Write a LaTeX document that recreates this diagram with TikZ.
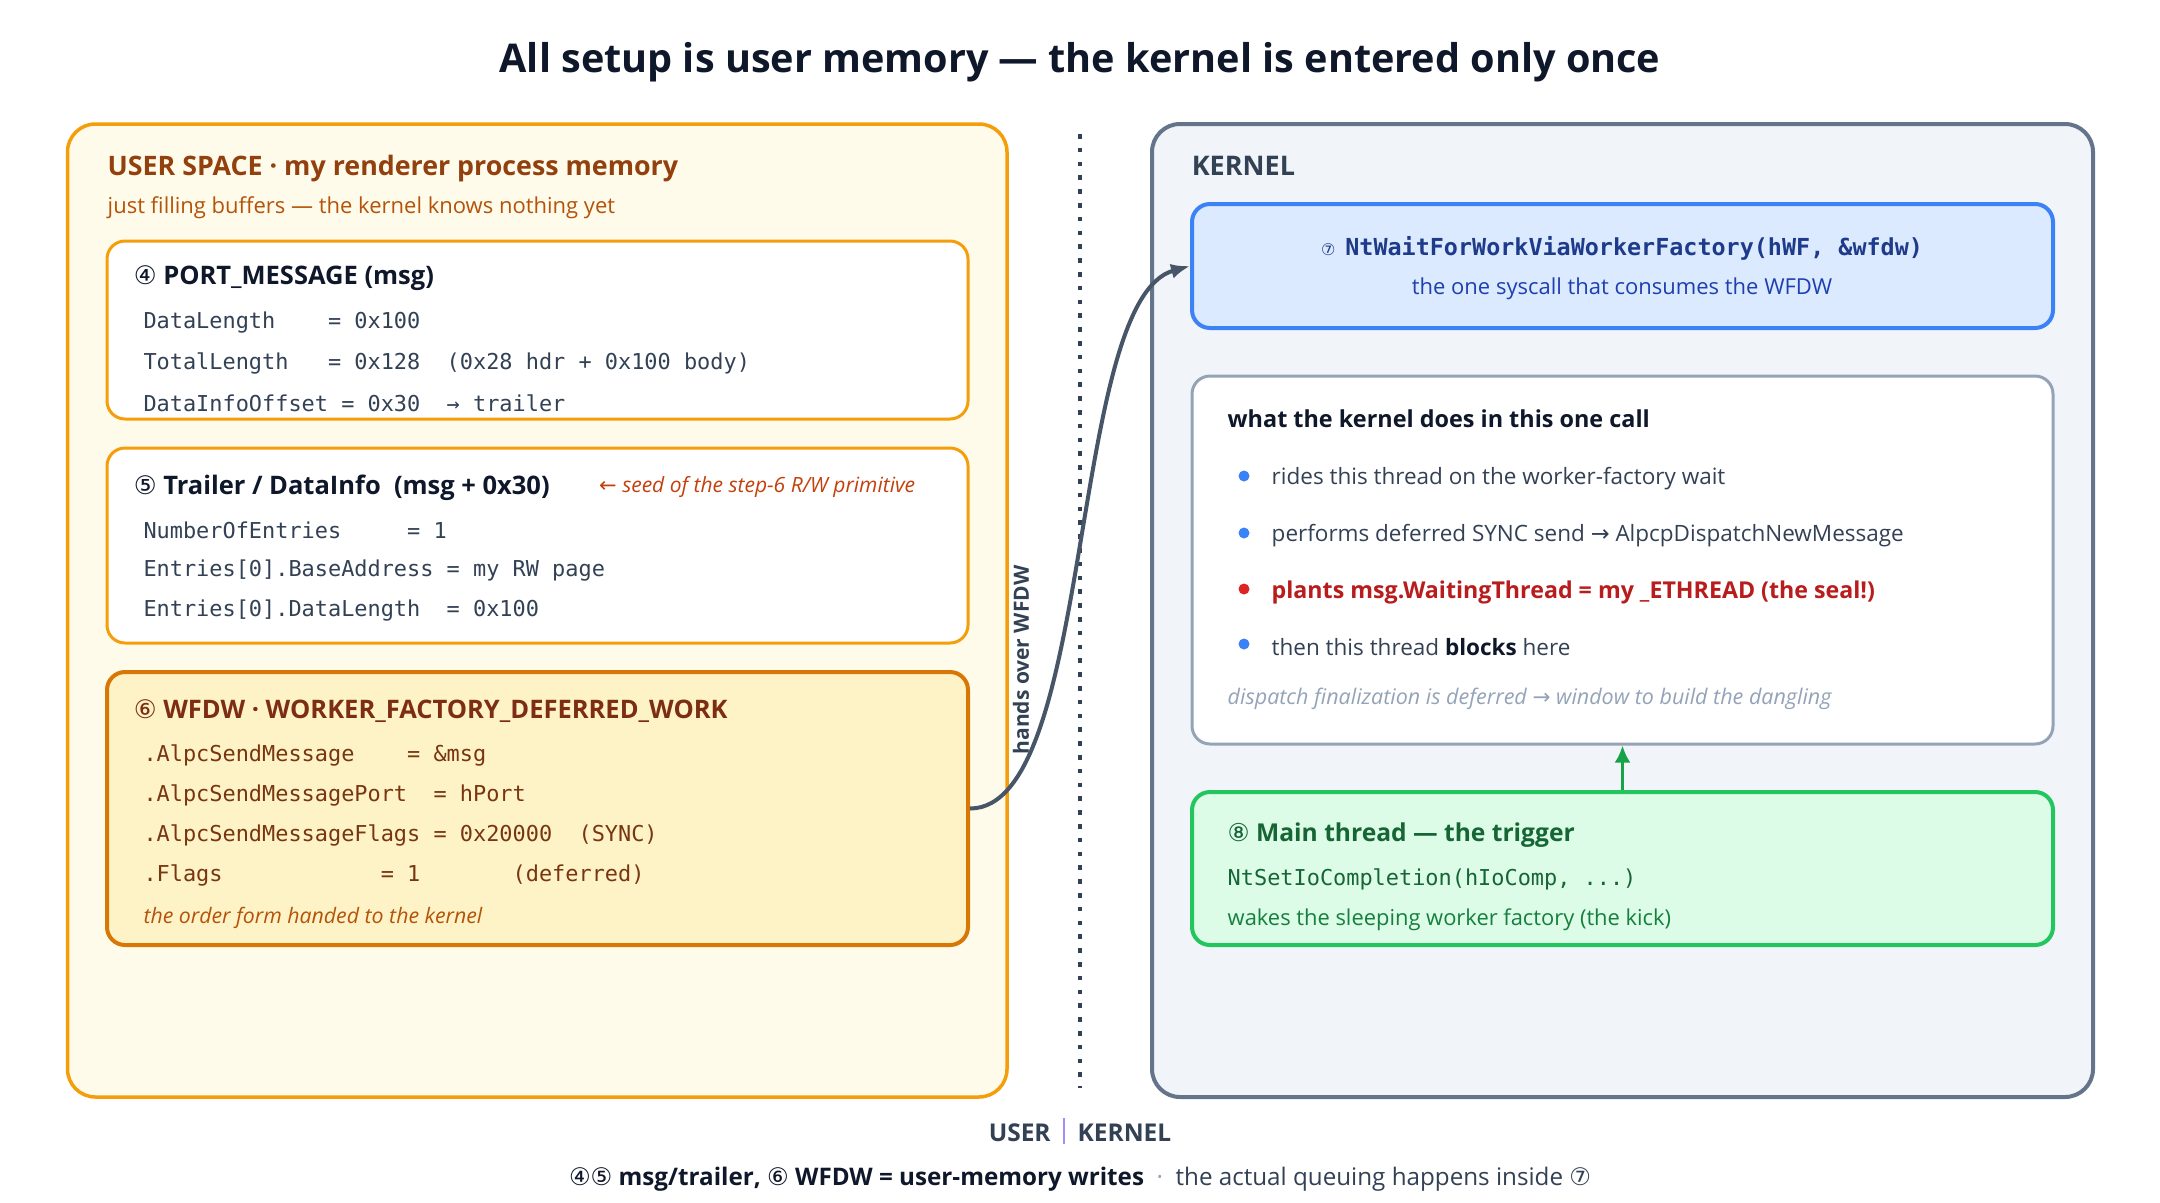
\documentclass[tikz,border=0pt]{standalone}
\usepackage{fontspec}
\setmainfont{Open Sans}
\setmonofont{DejaVu Sans Mono}
\newfontfamily\symfont{DejaVu Sans}
\usetikzlibrary{arrows.meta}
\frenchspacing

\definecolor{ink}{HTML}{0F172A}
\definecolor{slate}{HTML}{334155}
\definecolor{slatemid}{HTML}{475569}
\definecolor{slateline}{HTML}{64748B}
\definecolor{slatesoft}{HTML}{94A3B8}
\definecolor{kernbg}{HTML}{F1F5F9}
\definecolor{userbg}{HTML}{FFFBEB}
\definecolor{amber}{HTML}{F59E0B}
\definecolor{amberdk}{HTML}{D97706}
\definecolor{amberbg}{HTML}{FEF3C7}
\definecolor{userhead}{HTML}{92400E}
\definecolor{rust}{HTML}{B45309}
\definecolor{wfdwink}{HTML}{7C2D12}
\definecolor{wfdwmono}{HTML}{78350F}
\definecolor{seedtx}{HTML}{C2410C}
\definecolor{bluebg}{HTML}{DBEAFE}
\definecolor{blueln}{HTML}{3B82F6}
\definecolor{bluedk}{HTML}{1E3A8A}
\definecolor{bluemid}{HTML}{1E40AF}
\definecolor{redmk}{HTML}{DC2626}
\definecolor{redtx}{HTML}{B91C1C}
\definecolor{greenbg}{HTML}{DCFCE7}
\definecolor{greenln}{HTML}{22C55E}
\definecolor{greendk}{HTML}{166534}
\definecolor{greenmid}{HTML}{15803D}
\definecolor{greenar}{HTML}{16A34A}
\definecolor{sepv}{HTML}{A78BFA}

\newcommand\fs[1]{\fontsize{#1}{#1}\selectfont}
\newcommand\cnum[1]{{\symfont\mdseries\upshape #1}}

\begin{document}
\begin{tikzpicture}[x=1pt, y=-1pt,
  panel/.style={draw, rounded corners=28pt, line width=3.5pt, inner sep=0pt},
  card/.style={draw, rounded corners=18pt, line width=3pt, inner sep=0pt},
  txt/.style={anchor=west, inner sep=0pt, yshift=-4pt, font=\fs{22.5}},
  head/.style={anchor=west, inner sep=0pt, yshift=-4pt, font=\bfseries\fs{25.5}},
  code/.style={anchor=west, inner sep=0pt, yshift=-3pt, font=\ttfamily\fs{21.9}},
  note/.style={anchor=west, inner sep=0pt, yshift=-3pt, font=\itshape\fs{21.5}},
  handoff/.style={-{Latex[length=19pt,width=15pt]}, line width=4pt, draw=slatemid},
  kick/.style={-{Latex[length=17pt,width=16pt]}, line width=3.5pt, draw=greenar}]
 			%%%	Frame
 			\fill[white] (0,0) rectangle (2160,1202);
 			\useasboundingbox (0,0) rectangle (2160,1202);
 			\node[font=\bfseries\fs{39.6}, text=ink, inner sep=0pt] (title) at (1080,62) {All setup is user memory --- the kernel is entered only once};
 			%%%	User space
 			\node[panel, draw=amber, fill=userbg, minimum width=939.5, minimum height=973] (user) at (537.25,610.5) {};
 			\node[head, font=\bfseries\fs{26.8}, text=userhead] (userhd) at (107.5,165) {USER SPACE · my renderer process memory};
 			\node[txt, font=\fs{22}, text=rust] (usersub) at (107.5,204) {just filling buffers --- the kernel knows nothing yet};
 			% port message
 			\node[card, draw=amber, fill=white, minimum width=861, minimum height=178] (msg) at (537.5,330) {};
 			\node[head, text=ink] (msghd) at (133.6,274) {\cnum{④} PORT\_MESSAGE (msg)};
 			\node[code, text=slate] (msg1) at (143.3,320) {DataLength~~~~= 0x100};
 			\node[code, text=slate] (msg2) at (143.3,360) {TotalLength~~~= 0x128~~(0x28 hdr + 0x100 body)};
 			\node[code, text=slate] (msg3) at (143.3,400) {DataInfoOffset = 0x30~~→ trailer};
 			% trailer
 			\node[card, draw=amber, fill=white, minimum width=861, minimum height=195] (trl) at (537.5,545.5) {};
 			\node[head, text=ink] (trlhd) at (133.6,483.5) {\cnum{⑤} Trailer / DataInfo\ \ (msg + 0x30)};
 			\node[note, font=\itshape\fs{21}, text=seedtx] (seed) at (599,483.5) {\cnum{←} seed of the step-6 R/W primitive};
 			\node[code, text=slate] (trl1) at (143.3,527.6) {NumberOfEntries~~~~~= 1};
 			\node[code, text=slate] (trl2) at (143.3,567.6) {Entries[0].BaseAddress = my RW page};
 			\node[code, text=slate] (trl3) at (143.3,607.5) {Entries[0].DataLength~~= 0x100};
 			% wfdw
 			\node[card, draw=amberdk, fill=amberbg, line width=4pt, minimum width=861, minimum height=273] (wfdw) at (537.5,808.5) {};
 			\node[head, text=wfdwink] (wfdwhd) at (133.6,706.7) {\cnum{⑥} WFDW · WORKER\_FACTORY\_DEFERRED\_WORK};
 			\node[code, text=wfdwmono] (wfdw1) at (143.3,752) {.AlpcSendMessage~~~~= \&msg};
 			\node[code, text=wfdwmono] (wfdw2) at (143.3,792) {.AlpcSendMessagePort~~= hPort};
 			\node[code, text=wfdwmono] (wfdw3) at (143.3,832) {.AlpcSendMessageFlags = 0x20000~~(SYNC)};
 			\node[code, text=wfdwmono] (wfdw4) at (143.3,872) {.Flags~~~~~~~~~~~~= 1~~~~~~~(deferred)};
 			\node[note, font=\itshape\fs{21.3}, text=rust] (wfdwnote) at (143.3,914.7) {the order form handed to the kernel};
 			%%%	Divider
 			\draw[slate, line width=4pt, dash pattern=on 4.5pt off 9.3pt] (1080,134) -- (1080,1088);
 			%%%	Kernel
 			\node[panel, draw=slateline, fill=kernbg, line width=4pt, minimum width=941, minimum height=973] (kern) at (1622.5,610.5) {};
 			\node[head, font=\bfseries\fs{27}, text=slate] (kernhd) at (1191.6,162) {KERNEL};
 			% syscall
 			\node[card, draw=blueln, fill=bluebg, line width=4pt, minimum width=861, minimum height=124] (wait) at (1622.5,266) {};
 			\node[inner sep=0pt, yshift=-3pt, text=bluedk] (waithd) at (1622,245) {\cnum{\fs{16}⑦}\hspace{10pt}{\ttfamily\bfseries\fs{23.4}NtWaitForWorkViaWorkerFactory(hWF, \&wfdw)}};
 			\node[inner sep=0pt, yshift=-4pt, font=\fs{22}, text=bluemid] (waitsub) at (1622,285) {the one syscall that consumes the WFDW};
 			% what happens
 			\node[card, draw=slatesoft, fill=white, minimum width=861, minimum height=368] (does) at (1622.5,560) {};
 			\node[head, font=\bfseries\fs{23.4}, text=ink] (doeshd) at (1227.5,414.7) {what the kernel does in this one call};
 			\fill[blueln] (1244,476) circle (5.5);
 			\fill[blueln] (1244,533) circle (5.5);
 			\fill[redmk] (1244,589) circle (5.5);
 			\fill[blueln] (1244,644) circle (5.5);
 			\node[txt, text=slate] (does1) at (1271.5,475) {rides this thread on the worker-factory wait};
 			\node[txt, text=slate] (does2) at (1271.5,532) {performs deferred SYNC send \cnum{→} AlpcpDispatchNewMessage};
 			\node[txt, font=\bfseries\fs{23.2}, text=redtx] (does3) at (1271.5,588) {plants msg.WaitingThread = my \_ETHREAD (the seal!)};
 			\node[txt, text=slate] (does4) at (1271.5,643) {then this thread {\bfseries\color{ink}blocks} here};
 			\node[note, text=slatesoft] (doesnote) at (1227.5,695.7) {dispatch finalization is deferred \cnum{→} window to build the dangling};
 			% trigger
 			\node[card, draw=greenln, fill=greenbg, line width=4pt, minimum width=861, minimum height=153] (trig) at (1622.5,868.5) {};
 			\node[head, font=\bfseries\fs{24.6}, text=greendk] (trighd) at (1227.5,830.7) {\cnum{⑧} Main thread --- the trigger};
 			\node[code, text=greendk] (trig1) at (1227.5,876) {NtSetIoCompletion(hIoComp, ...)};
 			\node[txt, font=\fs{21.9}, text=greenmid] (trig2) at (1227.5,916) {wakes the sleeping worker factory (the kick)};
 			%%%	Connectors
 			\draw[handoff] (wfdw.east) .. controls (1095,808.5) and (1068,300) .. (wait.west);
 			\node[rotate=90, inner sep=0pt, font=\bfseries\fs{21}, text=slate] (handlbl) at (1021,660) {hands over WFDW};
 			\draw[kick] (trig.north) -- (does.south);
 			%%%	Footer
 			\node[inner sep=0pt, font=\bfseries\fs{24.5}, text=slate] (foot1) at (1080,1131) {USER\ \ {\color{sepv}\rule[-3pt]{1.5pt}{26pt}}\ \ KERNEL};
 			\node[inner sep=0pt, yshift=-4pt, font=\fs{24.2}, text=slate] (foot2) at (1080,1175) {{\bfseries\color{ink}\cnum{④⑤} msg/trailer, \cnum{⑥} WFDW = user-memory writes}\ \ {\color{slatesoft}·}\ \ the actual queuing happens inside \cnum{⑦}};
\end{tikzpicture}
\end{document}
